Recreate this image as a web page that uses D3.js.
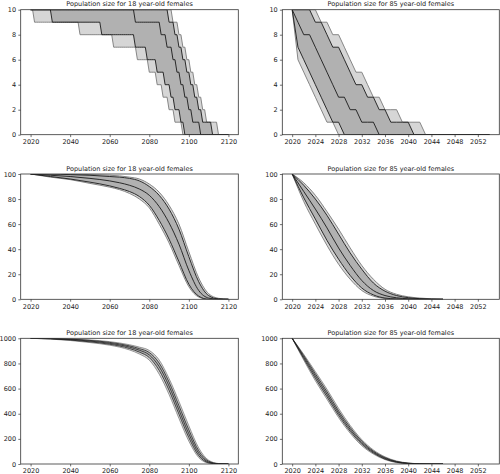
<!DOCTYPE html>
<html><head><meta charset="utf-8">
<script src="https://cdn.jsdelivr.net/npm/d3@7"></script>
<style>
body{margin:0;background:#fff}
svg{display:block}
text{font-family:"DejaVu Sans",sans-serif}
</style>
</head><body>
<svg id="chart" width="500" height="474"></svg>
<script>
// ---------- Titles ----------
const title18 = "Population size for 18 year-old females";
const title85 = "Population size for 85 year-old females";

// ---------- Tick labels ----------
const xTicksLeft = [2020, 2040, 2060, 2080, 2100, 2120];
const xTicksRight = [2020, 2024, 2028, 2032, 2036, 2040, 2044, 2048, 2052];
const yTicks10 = [0, 2, 4, 6, 8, 10];
const yTicks100 = [0, 20, 40, 60, 80, 100];
const yTicks1000 = [0, 200, 400, 600, 800, 1000];

// ---------- Panel 1: 18 y.o., start 10 (years at which one individual is lost) ----------
const p1Start = 10, p1FirstYear = 2020, p1LastYear = 2120;
const p1Lo95Drops = [2022, 2045, 2062, 2074, 2080, 2084, 2087, 2090, 2093, 2097];
const p1Lo50Drops = [2031, 2056, 2073, 2079, 2084, 2088, 2091, 2093, 2096, 2098];
const p1MedDrops  = [2073, 2086, 2089, 2092, 2094, 2096, 2098, 2100, 2102, 2106];
const p1Hi50Drops = [2090, 2093, 2095, 2097, 2099, 2101, 2103, 2105, 2107, 2112];
const p1Hi95Drops = [2092, 2095, 2097, 2099, 2101, 2103, 2105, 2107, 2109, 2115];

// ---------- Panel 2: 85 y.o., start 10 ----------
const p2Start = 10, p2FirstYear = 2020, p2LastYear = 2054;
const p2Lo95Drops = [2021, 2021, 2021, 2021, 2022, 2023, 2024, 2025, 2026, 2028];
const p2Lo50Drops = [2021, 2021, 2021, 2022, 2023, 2024, 2025, 2026, 2027, 2029];
const p2MedDrops  = [2021, 2022, 2024, 2025, 2026, 2027, 2028, 2030, 2032, 2035];
const p2Hi50Drops = [2024, 2026, 2027, 2029, 2030, 2031, 2033, 2035, 2037, 2041];
const p2Hi95Drops = [2025, 2027, 2029, 2030, 2031, 2033, 2034, 2036, 2039, 2043];

// ---------- Panel 3: 18 y.o., start 100 ----------
const p3Years = [2020, 2030, 2040, 2050, 2060, 2065, 2070, 2075, 2080, 2085, 2090, 2095, 2100, 2105, 2110, 2115, 2120];
const p3Hi95 = [100, 100, 100, 99.5, 99, 98.5, 97.5, 96, 92, 85.5, 75, 60, 38, 17, 4.5, 0.8, 0];
const p3Hi50 = [100, 100, 99.5, 99, 98, 97.5, 96.5, 94.5, 90, 83, 72, 56, 34, 14, 3, 0.3, 0];
const p3Med  = [100, 99, 98, 96.5, 94.5, 93, 91, 88, 83, 74, 61, 44, 23, 7, 1, 0, 0];
const p3Lo50 = [100, 98, 96, 93.5, 90.5, 88.5, 86, 82, 75, 63, 48, 30, 12, 2.5, 0, 0, 0];
const p3Lo95 = [100, 97.5, 95.5, 92.5, 89.5, 87.5, 84.5, 80, 73, 60, 45, 27, 10, 1.8, 0, 0, 0];

// ---------- Panel 4: 85 y.o., start 100 ----------
const p4Years = [2020, 2022, 2024, 2026, 2028, 2030, 2032, 2034, 2036, 2038, 2040, 2042, 2044, 2046];
const p4Hi95 = [100, 93, 83, 70, 56, 41, 27, 16, 8, 4, 2, 1, 0.4, 0];
const p4Hi50 = [100, 91, 80, 67, 52, 37, 24, 13, 6.5, 3, 1.3, 0.5, 0.1, 0];
const p4Med  = [100, 86, 72, 57, 41, 27, 15, 7, 3, 1.2, 0.4, 0.1, 0, 0];
const p4Lo50 = [100, 81, 64, 47, 32, 19, 9, 3.5, 1, 0.3, 0, 0, 0, 0];
const p4Lo95 = [100, 78, 60, 43, 28, 16, 7, 2.5, 0.6, 0, 0, 0, 0, 0];

// ---------- Panel 5: 18 y.o., start 1000 ----------
const p5Years = [2020, 2030, 2040, 2050, 2060, 2070, 2075, 2080, 2085, 2090, 2095, 2100, 2105, 2110, 2115, 2120];
const p5Hi95 = [1000, 999.3, 995.3, 987, 973.5, 948.8, 929.8, 903.3, 827.5, 680, 497.5, 303.8, 127.8, 30, 4, 0];
const p5Hi50 = [1000, 998.5, 993, 983.3, 967.5, 939.8, 917.8, 886.8, 802.8, 651.5, 463.8, 271.5, 105.3, 22.5, 2.5, 0];
const p5Med  = [1000, 997, 990, 978, 960, 930, 905, 868, 775, 620, 430, 240, 85, 15, 1, 0];
const p5Lo50 = [1000, 995.5, 986.2, 972, 952.5, 918.7, 890, 847, 745, 586.2, 396.2, 210, 66.2, 9.7, 0.2, 0];
const p5Lo95 = [1000, 994, 982.5, 966, 945, 907.5, 875, 826, 715, 552.5, 362.5, 181.5, 51.2, 6.7, 0.2, 0];

// ---------- Panel 6: 85 y.o., start 1000 ----------
const p6Years = [2020, 2022, 2024, 2026, 2028, 2030, 2032, 2034, 2036, 2038, 2040, 2042, 2044, 2046];
const p6Hi95 = [1000, 872, 735, 595, 443, 307, 194, 112, 57, 24, 8, 2.2, 0.4, 0];
const p6Hi50 = [1000, 862, 718, 575, 423, 291, 182, 103, 51, 20, 6.6, 1.4, 0, 0];
const p6Med  = [1000, 850, 700, 555, 405, 275, 170, 95, 45, 17, 5, 1, 0, 0];
const p6Lo50 = [1000, 838, 681, 535, 387, 260, 158, 87, 39, 14, 3.4, 0.6, 0, 0];
const p6Lo95 = [1000, 826, 662, 515, 369, 245, 146, 79, 35, 11, 2.6, 0.2, 0, 0];

// ---------- helpers ----------
function stepTable(start, y0, y1, lo95, lo50, med, hi50, hi95) {
  const count = (arr, y) => arr.filter(d => d <= y).length;
  return d3.range(y0, y1 + 1).map(y => ({
    year: y,
    lo95: start - count(lo95, y), lo50: start - count(lo50, y), med: start - count(med, y),
    hi50: start - count(hi50, y), hi95: start - count(hi95, y)
  }));
}
function smoothTable(years, lo95, lo50, med, hi50, hi95) {
  return years.map((y, i) => ({year: y, lo95: lo95[i], lo50: lo50[i], med: med[i], hi50: hi50[i], hi95: hi95[i]}));
}

const cols = [
  {x0: 20.7, x1: 238.3, dom: [2015, 2125], ticks: xTicksLeft},
  {x0: 282.3, x1: 499.3, dom: [2018.3, 2055.7], ticks: xTicksRight}
];
const rows = [
  {y0: 9.7, y1: 134.7},
  {y0: 174, y1: 299.3},
  {y0: 338.3, y1: 464}
];

const panels = [
  {r: 0, c: 0, title: title18, ymax: 10, yt: yTicks10, curve: d3.curveLinear, lw: 0.9,
   data: stepTable(p1Start, p1FirstYear, p1LastYear, p1Lo95Drops, p1Lo50Drops, p1MedDrops, p1Hi50Drops, p1Hi95Drops)},
  {r: 0, c: 1, title: title85, ymax: 10, yt: yTicks10, curve: d3.curveLinear, lw: 0.9,
   data: stepTable(p2Start, p2FirstYear, p2LastYear, p2Lo95Drops, p2Lo50Drops, p2MedDrops, p2Hi50Drops, p2Hi95Drops)},
  {r: 1, c: 0, title: title18, ymax: 100, yt: yTicks100, curve: d3.curveMonotoneX, lw: 0.9,
   data: smoothTable(p3Years, p3Lo95, p3Lo50, p3Med, p3Hi50, p3Hi95)},
  {r: 1, c: 1, title: title85, ymax: 100, yt: yTicks100, curve: d3.curveMonotoneX, lw: 0.9,
   data: smoothTable(p4Years, p4Lo95, p4Lo50, p4Med, p4Hi50, p4Hi95)},
  {r: 2, c: 0, title: title18, ymax: 1000, yt: yTicks1000, curve: d3.curveMonotoneX, lw: 0.75,
   data: smoothTable(p5Years, p5Lo95, p5Lo50, p5Med, p5Hi50, p5Hi95)},
  {r: 2, c: 1, title: title85, ymax: 1000, yt: yTicks1000, curve: d3.curveMonotoneX, lw: 0.75,
   data: smoothTable(p6Years, p6Lo95, p6Lo50, p6Med, p6Hi50, p6Hi95)}
];

const svg = d3.select("#chart");
const FS = 6.5;

panels.forEach((p, i) => {
  const col = cols[p.c], row = rows[p.r];
  const x = d3.scaleLinear().domain(col.dom).range([col.x0, col.x1]);
  const y = d3.scaleLinear().domain([0, p.ymax]).range([row.y1, row.y0]);
  const g = svg.append("g");
  const clipId = "clip" + i;
  g.append("clipPath").attr("id", clipId).append("rect")
    .attr("x", col.x0).attr("y", row.y0).attr("width", col.x1 - col.x0).attr("height", row.y1 - row.y0);
  const plot = g.append("g").attr("clip-path", `url(#${clipId})`);

  const area = (lo, hi) => d3.area().curve(p.curve).x(d => x(d.year)).y0(d => y(d[lo])).y1(d => y(d[hi]));
  const line = key => d3.line().curve(p.curve).x(d => x(d.year)).y(d => y(d[key]));

  plot.append("path").attr("d", area("lo95", "hi95")(p.data)).attr("fill", "#d6d6d6");
  plot.append("path").attr("d", area("lo50", "hi50")(p.data)).attr("fill", "#b1b1b1");
  ["lo95", "hi95"].forEach(k => plot.append("path").attr("d", line(k)(p.data))
    .attr("fill", "none").attr("stroke", "#7a7a7a").attr("stroke-width", p.lw));
  ["lo50", "hi50", "med"].forEach(k => plot.append("path").attr("d", line(k)(p.data))
    .attr("fill", "none").attr("stroke", "#1a1a1a").attr("stroke-width", p.lw));

  // axes
  const xa = g.append("g").attr("transform", `translate(0,${row.y1})`)
    .call(d3.axisBottom(x).tickValues(col.ticks).tickFormat(d3.format("d")).tickSize(2.4).tickPadding(2.2));
  const ya = g.append("g").attr("transform", `translate(${col.x0},0)`)
    .call(d3.axisLeft(y).tickValues(p.yt).tickFormat(d3.format("d")).tickSize(2.4).tickPadding(2.2));
  [xa, ya].forEach(a => {
    a.select(".domain").remove();
    a.selectAll("line").attr("stroke", "#333").attr("stroke-width", 0.7);
    a.selectAll("text").attr("font-size", FS).attr("fill", "#222").attr("font-family", "DejaVu Sans");
  });
  // frame
  g.append("rect").attr("x", col.x0).attr("y", row.y0)
    .attr("width", col.x1 - col.x0).attr("height", row.y1 - row.y0)
    .attr("fill", "none").attr("stroke", "#333").attr("stroke-width", 0.8);
  // title
  g.append("text").attr("x", (col.x0 + col.x1) / 2).attr("y", row.y0 - 3.3)
    .attr("text-anchor", "middle").attr("font-size", FS).attr("fill", "#222").text(p.title);
});
</script>
</body></html>
